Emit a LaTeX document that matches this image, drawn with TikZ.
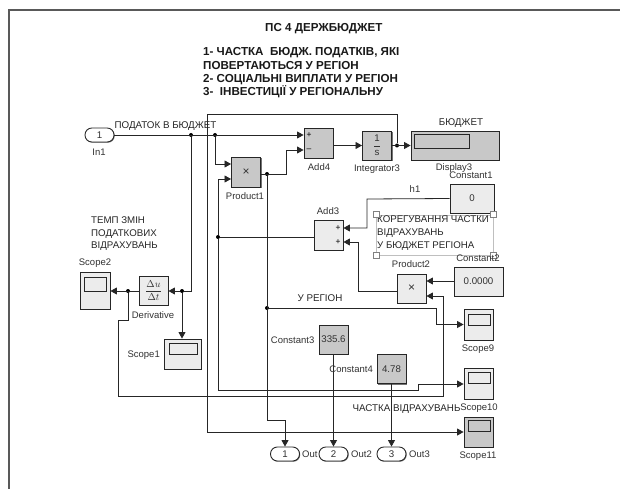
\documentclass[tikz,border=0pt]{standalone}
\usepackage{fontspec}
\setmainfont{Liberation Sans}
\setsansfont{Liberation Sans}
\usetikzlibrary{arrows.meta,shadows,calc}
\definecolor{blockgray}{RGB}{200,200,200}
\definecolor{blocklight}{RGB}{236,236,236}
\definecolor{labelgray}{RGB}{50,50,50}
\tikzset{
  block/.style={draw=black!85,line width=0.9pt,inner sep=0pt,minimum width=29pt,minimum height=29pt,
    font=\fontsize{9.7}{11}\selectfont,text=labelgray,
    drop shadow={shadow xshift=1pt,shadow yshift=-1pt,fill=black!55,opacity=1}},
  dark/.style={block,fill=blockgray},
  light/.style={block,fill=blocklight},
  port/.style={draw=black!85,line width=0.9pt,fill=white,rounded corners=6.8pt,minimum width=29pt,minimum height=14pt,inner sep=0pt,
    font=\fontsize{9.7}{11}\selectfont,text=labelgray,
    drop shadow={shadow xshift=0.7pt,shadow yshift=-0.7pt,fill=black!55,opacity=1}},
  screen/.style={draw=black!85,line width=0.8pt,inner sep=0pt},
  lbl/.style={font=\fontsize{9.5}{11}\selectfont,text=labelgray,inner sep=0pt},
  ulbl/.style={font=\fontsize{9.8}{11}\selectfont,text=black!85,inner sep=0pt},
  note/.style={font=\fontsize{9.7}{12.6}\selectfont,text=black!85,inner sep=0pt,align=left},
  titletext/.style={font=\bfseries\fontsize{11.6}{13.4}\selectfont,text=black!90,inner sep=0pt,align=left},
  sign/.style={font=\fontsize{8.5}{9}\selectfont,text=black,inner sep=0pt},
  wire/.style={draw=black!85,line width=0.8pt},
  sig/.style={wire,-{Triangle[length=6.5pt,width=7pt]}},
  frameline/.style={draw=black!65,line width=1.1pt},
  dot/.style={circle,fill=black,inner sep=0pt,minimum size=4pt},
  handle/.style={draw=black!50,fill=white,line width=0.4pt,minimum size=6pt,inner sep=0pt}
}
\begin{document}
\begin{tikzpicture}[x=1pt,y=-1pt]
\useasboundingbox (0,0) rectangle (620,489);
\fill[white] (0,0) rectangle (620,489);
\coordinate (fa) at (620,10);
\coordinate (fb) at (9,10);
\coordinate (fc) at (9,489);
\draw[frameline] (fa) -- (fb) -- (fc);

% titles
\node[titletext,anchor=west] (title) at (265,29) {ПС 4 ДЕРЖБЮДЖЕТ};
\node[titletext,anchor=north west] (subtitle) at (203,47.5) {1- ЧАСТКА\ \ БЮДЖ. ПОДАТКІВ, ЯКІ\\ПОВЕРТАЮТЬСЯ У РЕГІОН\\2- СОЦІАЛЬНІ ВИПЛАТИ У РЕГІОН\\3-\ \ ІНВЕСТИЦІЇ У РЕГІОНАЛЬНУ};

% blocks
\node[port] (in1) at (99.5,135) {1};
\node[dark,minimum width=29pt,minimum height=30pt] (add4) at (318.5,143) {};
\node[dark,minimum height=30pt,font=\fontsize{12}{12}\selectfont] (prod1) at (246,172) {×};
\node[dark] (integ) at (377,145.5) {$\displaystyle\frac{\textsf{1}}{\textsf{s}}$};
\node[dark,minimum width=88pt] (disp) at (455,145.5) {};
\node[screen,fill=blockgray,minimum width=55pt,minimum height=14pt] (dispin) at (441.5,141) {};
\node[light,minimum width=44pt] (c1) at (472,198.5) {0};
\node[light,minimum height=30pt] (add3) at (328.5,235) {};
\node[light,font=\fontsize{12}{12}\selectfont] (prod2) at (411.5,288.5) {×};
\node[light,minimum width=49pt] (c2) at (478.5,281.5) {0.0000};
\node[light,minimum width=30pt,minimum height=37pt] (scope2) at (95,290.5) {};
\node[screen,minimum width=22pt,minimum height=14pt] (s2in) at (95,284) {};
\node[light] (deriv) at (153.5,290.5) {$\displaystyle\frac{\Delta u}{\Delta t}$};
\node[light,minimum width=37pt,minimum height=30pt] (scope1) at (182.5,354) {};
\node[screen,minimum width=28pt,minimum height=11pt] (s1in) at (183,348.5) {};
\node[dark] (c3) at (333.5,339.5) {335.6};
\node[dark] (c4) at (391.5,369) {4.78};
\node[light,minimum height=31pt] (scope9) at (478.5,324.5) {};
\node[screen,minimum width=22pt,minimum height=11pt] (s9in) at (479,319.5) {};
\node[light,minimum height=31pt] (scope10) at (478.5,383.5) {};
\node[screen,minimum width=22pt,minimum height=11pt] (s10in) at (479,377.5) {};
\node[dark,minimum height=30pt] (scope11) at (478.5,432) {};
\node[screen,minimum width=22pt,minimum height=11pt] (s11in) at (479,426) {};
\node[port] (out1) at (285,454) {1};
\node[port] (out2) at (333.5,454) {2};
\node[port] (out3) at (391.5,454) {3};

% port signs
\node[sign] (s41) at (309,135) {+};
\node[sign] (s42) at (309,150) {–};
\node[sign] (s31) at (338,228) {+};
\node[sign] (s32) at (338,242) {+};

% junctions
\node[dot] (j1) at (191,135) {};
\node[dot] (j2) at (215,135) {};
\node[dot] (j3) at (267,174) {};
\node[dot] (j4) at (267,308) {};
\node[dot] (j5) at (218,237) {};
\node[dot] (j6) at (182,291) {};
\node[dot] (j7) at (128,291) {};
\node[dot] (j8) at (397,145.5) {};

% connectors
\draw[sig] (in1.east) -- (add4.west |- in1);
\draw[sig] (j2) |- (prod1.west |- 0,164);
\draw[sig] (j1) |- (j6) -- (deriv.east |- j6);
\draw[sig] (j6) -- (j6 |- scope1.north);
\draw[sig] (deriv.west |- j7) -- (scope2.east |- j7);
\draw[sig] (j3 -| prod1.east) -- (286,174) |- (add4.west |- 0,150);
\draw[sig] (add4.east |- 0,145.5) -- (integ.west);
\draw[sig] (integ.east) -- (disp.west);
\draw[wire] (j8) -- (397,114) -- (207,114) -- (207,432);
\draw[sig] (207,432) -- (scope11.west |- 0,432);
\draw[sig] (add3.west |- j5) -- (j5) -- (218,179) -- (prod1.west |- 0,179);
\draw[sig] (j5) -- (218,390) -- (418,390) -- (418,384) -- (scope10.west |- 0,384);
\draw[sig] (j3) -- (267,420) -- (285,420) -- (out1.north);
\draw[sig] (j4) -- (436,308) -- (436,324.5) -- (scope9.west);
\draw[sig] (c1.west) -- (367,199) -- (367,228) -- (add3.east |- 0,228);
\draw[sig] (prod2.west |- 0,291) -- (358,291) -- (358,242) -- (add3.east |- 0,242);
\draw[sig] (c2.west |- 0,281) -- (prod2.east |- 0,281);
\draw[sig] (j7) -- (128,320) -- (118,320) -- (118,396) -- (443,396) -- (443,296) -- (prod2.east |- 0,296);
\draw[sig] (c3.south) -- (out2.north);
\draw[sig] (c4.south) -- (out3.north);

% labels
\node[ulbl] (pod) at (165.5,126) {ПОДАТОК В БЮДЖЕТ};
\node[lbl] (lin1) at (99,152) {In1};
\node[lbl] (ladd4) at (319,167) {Add4};
\node[lbl] (lprod1) at (245,196) {Product1};
\node[lbl] (lint) at (377,169) {Integrator3};
\node[ulbl] (lbud) at (461,123) {БЮДЖЕТ};
\node[lbl] (ldisp) at (454,168) {Display3};
\node[lbl] (lc1) at (471,175) {Constant1};
\node[lbl] (lh1) at (415,189) {h1};
\node[lbl] (ladd3) at (328,211) {Add3};
\node[lbl] (lprod2) at (411,264) {Product2};
\node[note,anchor=north west] (temp) at (91,216.5) {ТЕМП ЗМІН\\ПОДАТКОВИХ\\ВІДРАХУВАНЬ};
\node[lbl] (ls2) at (95,263) {Scope2};
\node[lbl] (lder) at (153,315) {Derivative};
\node[lbl,anchor=east] (ls1) at (160,355) {Scope1};
\node[ulbl] (lreg) at (320,298) {У РЕГІОН};
\node[lbl,anchor=east] (lc3) at (314.5,340) {Constant3};
\node[lbl,anchor=east] (lc4) at (373,369) {Constant4};
\node[lbl] (ls9) at (478,349) {Scope9};
\node[ulbl] (lcht) at (406.5,409) {ЧАСТКА ВІДРАХУВАНЬ};
\node[lbl] (ls10) at (479,408) {Scope10};
\node[lbl] (ls11) at (478,456) {Scope11};
\node[lbl,anchor=west] (lo1) at (302,454) {Out};
\node[lbl,anchor=west] (lo2) at (351,454) {Out2};
\node[lbl,anchor=west] (lo3) at (409,454) {Out3};
\node[lbl,font=\fontsize{6}{7}\selectfont] (lh2) at (443,254) {h2};

% annotation box
\node[draw=black!25,line width=0.5pt,fill=white,minimum width=117pt,minimum height=40pt,inner sep=0pt] (cbox) at (434.5,235) {};
\node[note,anchor=north west] (ctext) at (377,216) {КОРЕГУВАННЯ ЧАСТКИ\\ВІДРАХУВАНЬ\\У БЮДЖЕТ РЕГІОНА};
\node[handle] (h_a) at (376,214) {};
\node[handle] (h_b) at (493,214) {};
\node[handle] (h_c) at (376,255) {};
\node[handle] (h_d) at (493,255) {};
\node[lbl] (lc2) at (478,258) {Constant2};
\end{tikzpicture}
\end{document}
